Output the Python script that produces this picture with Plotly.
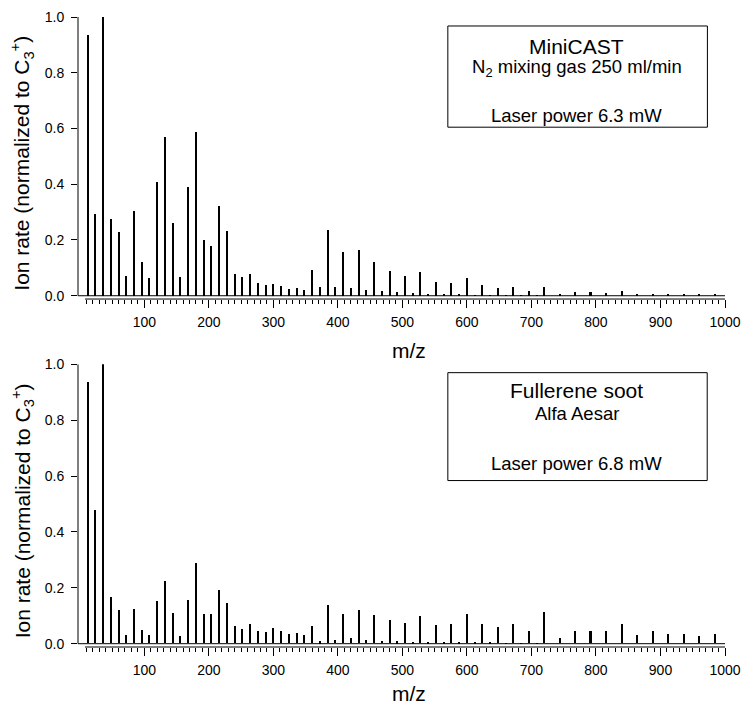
import plotly.graph_objects as go

# ---------------- data ----------------
mz_top = [12, 24, 36, 48, 60, 72, 84, 96, 108, 120, 132, 144, 156, 168, 180, 192, 204, 216, 228, 240,
          252, 264, 276, 288, 300, 312, 324, 336, 348, 360, 372, 384, 396, 408, 420, 432, 444, 456, 468, 480,
          492, 504, 516, 528, 540, 552, 564, 576, 588, 600, 612, 624, 636, 648, 660, 672, 684, 696, 708, 720,
          744, 768, 792, 816, 840, 864, 888, 912, 936, 960, 984]
rate_minicast = [0.937, 0.295, 1.000, 0.277, 0.229, 0.070, 0.303, 0.122, 0.063, 0.407, 0.570, 0.260, 0.068, 0.391, 0.587, 0.201, 0.179, 0.321, 0.232, 0.079,
                 0.066, 0.078, 0.044, 0.039, 0.041, 0.036, 0.023, 0.027, 0.019, 0.091, 0.032, 0.235, 0.031, 0.158, 0.026, 0.165, 0.020, 0.121, 0.016, 0.090,
                 0.014, 0.070, 0.010, 0.085, 0.006, 0.048, 0.005, 0.044, 0.005, 0.062, 0.002, 0.037, 0.001, 0.029, 0.001, 0.030, 0.001, 0.018, 0.001, 0.032,
                 0.008, 0.014, 0.012, 0.011, 0.016, 0.006, 0.008, 0.006, 0.005, 0.004, 0.005]

mz_bottom = mz_top
rate_fullerene = [0.936, 0.478, 1.000, 0.166, 0.118, 0.031, 0.122, 0.049, 0.029, 0.151, 0.223, 0.110, 0.027, 0.154, 0.288, 0.104, 0.105, 0.192, 0.143, 0.063,
                  0.052, 0.070, 0.043, 0.042, 0.056, 0.043, 0.033, 0.039, 0.029, 0.064, 0.007, 0.137, 0.013, 0.107, 0.018, 0.120, 0.011, 0.100, 0.010, 0.085,
                  0.007, 0.074, 0.005, 0.099, 0.005, 0.066, 0.005, 0.068, 0.002, 0.104, 0.002, 0.069, 0.002, 0.058, 0.001, 0.071, 0.001, 0.043, 0.001, 0.114,
                  0.021, 0.044, 0.043, 0.043, 0.071, 0.030, 0.043, 0.033, 0.033, 0.026, 0.032]

x_major_ticks = [100, 200, 300, 400, 500, 600, 700, 800, 900, 1000]
x_minor_ticks = [v for v in range(10, 1000, 10) if v % 100 != 0]
y_ticks = [0.0, 0.2, 0.4, 0.6, 0.8, 1.0]
y_ticktext = ["0.0", "0.2", "0.4", "0.6", "0.8", "1.0"]

top_box_lines = ["MiniCAST", "N<sub>2</sub> mixing gas 250 ml/min", "Laser power 6.3 mW"]
bottom_box_lines = ["Fullerene soot", "Alfa Aesar", "Laser power 6.8 mW"]
y_title = "Ion rate (normalized to C<sub>3</sub><sup>+</sup>)"
x_title = "m/z"

# ---------------- layout geometry (pixels) ----------------
W, H = 742, 704
L, R, T, B = 78, 16.7, 16.7, 56.7
PW, PH = W - L - R, H - T - B


def px(x):
    return (x - L) / PW


def py(y):
    return (H - B - y) / PH


FONT = "Liberation Sans, Arial, Helvetica, sans-serif"

fig = go.Figure()
fig.add_trace(go.Bar(x=mz_top, y=rate_minicast, width=3.1,
                     marker=dict(color="black", line=dict(width=0)),
                     xaxis="x", yaxis="y", showlegend=False, hoverinfo="x+y"))
fig.add_trace(go.Bar(x=mz_bottom, y=rate_fullerene, width=3.1,
                     marker=dict(color="black", line=dict(width=0)),
                     xaxis="x2", yaxis="y2", showlegend=False, hoverinfo="x+y"))

xcommon = dict(range=[-2.8, 1000], showgrid=False, zeroline=False, showline=False,
               automargin=False,
               ticks="outside", ticklen=8, tickwidth=1, tickcolor="black",
               tickmode="array", tickvals=x_major_ticks,
               ticktext=[str(v) for v in x_major_ticks],
               ticklabelstandoff=2,
               tickfont=dict(family=FONT, size=14, color="black"),
               minor=dict(ticks="outside", ticklen=4, tickwidth=1, tickcolor="black",
                          tickmode="array", tickvals=x_minor_ticks))
ycommon = dict(range=[-0.0118, 1.0], showgrid=False, zeroline=False, showline=False,
               automargin=False,
               ticks="outside", ticklen=6, tickwidth=1, tickcolor="black",
               tickmode="array", tickvals=y_ticks, ticktext=y_ticktext,
               ticklabelstandoff=4,
               tickfont=dict(family=FONT, size=14, color="black"))

fig.update_layout(
    template="none",
    width=W, height=H,
    margin=dict(l=L, r=R, t=T, b=B, autoexpand=False),
    paper_bgcolor="white", plot_bgcolor="white",
    font=dict(family=FONT, color="black"),
    xaxis=dict(**xcommon, domain=[0, 1], anchor="y"),
    yaxis=dict(**ycommon, domain=[py(299), 1.0], anchor="x"),
    xaxis2=dict(**xcommon, domain=[0, 1], anchor="y2"),
    yaxis2=dict(**ycommon, domain=[0, py(364.3)], anchor="x2"),
    bargap=0,
    showlegend=False,
)

shapes = []
for xa, ya in (("x", "y"), ("x2", "y2")):
    # left axis line
    shapes.append(dict(type="line", xref=f"{xa} domain", yref=ya, x0=0, x1=0, y0=0, y1=1,
                       line=dict(color="black", width=1)))
    # zero baseline
    shapes.append(dict(type="line", xref=f"{xa} domain", yref=ya, x0=0, x1=1, y0=0, y1=0,
                       line=dict(color="black", width=1)))
    # bottom axis line (offset below baseline)
    shapes.append(dict(type="line", xref=xa, yref=f"{ya} domain", x0=8, x1=1000, y0=0, y1=0,
                       line=dict(color="black", width=1)))

# annotation boxes
for (x0, y0, x1, y1) in ((448, 25.7, 707.7, 127), (448, 372.7, 707.5, 480.7)):
    shapes.append(dict(type="rect", xref="paper", yref="paper",
                       x0=px(x0), x1=px(x1), y0=py(y1), y1=py(y0),
                       line=dict(color="black", width=1), fillcolor="rgba(0,0,0,0)"))
fig.update_layout(shapes=shapes)

ann = []
# y titles
for yc in (163.5, 511.5):
    ann.append(dict(text=y_title, xref="paper", yref="paper", x=px(22), y=py(yc),
                    textangle=-90, showarrow=False, xanchor="center", yanchor="middle",
                    font=dict(family=FONT, size=21, color="black")))
# x titles
for yc in (351, 694):
    ann.append(dict(text=x_title, xref="paper", yref="paper", x=px(409), y=py(yc),
                    showarrow=False, xanchor="center", yanchor="middle",
                    font=dict(family=FONT, size=21, color="black")))
# box texts
for lines, ys, sizes in ((top_box_lines, (46.0, 68.0, 115.0), (21, 18.5, 18.5)),
                         (bottom_box_lines, (391.0, 414.0, 464.0), (21, 18.5, 18.5))):
    for t, yc, s in zip(lines, ys, sizes):
        ann.append(dict(text=t, xref="paper", yref="paper", x=px(577), y=py(yc),
                        showarrow=False, xanchor="center", yanchor="middle",
                        font=dict(family=FONT, size=s, color="black")))
fig.update_layout(annotations=ann)

fig.write_html("out.html",
               config={"displayModeBar": False},
               post_script="document.body.style.margin='0';document.body.style.padding='0';")
